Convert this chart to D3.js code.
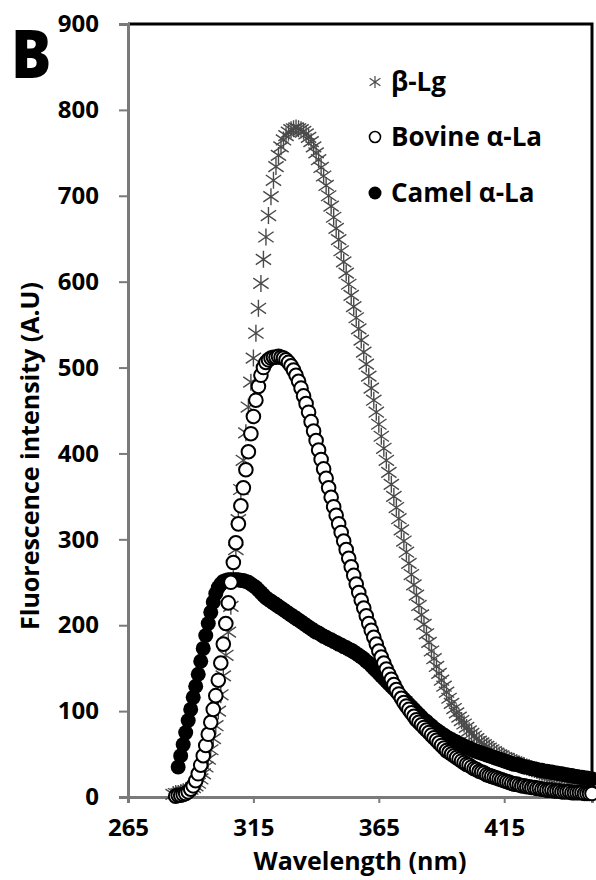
<!DOCTYPE html>
<html>
<head>
<meta charset="utf-8">
<script src="https://cdn.jsdelivr.net/npm/d3@7"></script>
<style>
  html, body { margin: 0; padding: 0; background: #fff; }
  svg { display: block; font-family: "Open Sans", "Noto Sans", sans-serif; }
</style>
</head>
<body>
<svg id="chart" width="596" height="880"></svg>
<script>
// Emission wavelengths (nm), 1 nm steps
const wavelengths = [
  283, 284, 285, 286, 287, 288, 289, 290, 291, 292,
  293, 294, 295, 296, 297, 298, 299, 300, 301, 302,
  303, 304, 305, 306, 307, 308, 309, 310, 311, 312,
  313, 314, 315, 316, 317, 318, 319, 320, 321, 322,
  323, 324, 325, 326, 327, 328, 329, 330, 331, 332,
  333, 334, 335, 336, 337, 338, 339, 340, 341, 342,
  343, 344, 345, 346, 347, 348, 349, 350, 351, 352,
  353, 354, 355, 356, 357, 358, 359, 360, 361, 362,
  363, 364, 365, 366, 367, 368, 369, 370, 371, 372,
  373, 374, 375, 376, 377, 378, 379, 380, 381, 382,
  383, 384, 385, 386, 387, 388, 389, 390, 391, 392,
  393, 394, 395, 396, 397, 398, 399, 400, 401, 402,
  403, 404, 405, 406, 407, 408, 409, 410, 411, 412,
  413, 414, 415, 416, 417, 418, 419, 420, 421, 422,
  423, 424, 425, 426, 427, 428, 429, 430, 431, 432,
  433, 434, 435, 436, 437, 438, 439, 440, 441, 442,
  443, 444, 445, 446, 447, 448, 449, 450
];

// Fluorescence intensity (A.U) per wavelength
const betaLg = [
  3, 4, 4, 5, 6, 7, 8, 9, 11, 13,
  16, 21, 27, 35, 44, 55, 68, 83, 100, 119,
  141, 165, 192, 222, 254, 288, 323, 358, 392, 424,
  454, 483, 511, 540, 569, 598, 626, 652, 677, 699,
  718, 734, 747, 757, 765, 770, 774, 777, 778, 779,
  778, 777, 775, 772, 768, 763, 757, 750, 742, 733,
  723, 712, 700, 688, 675, 662, 649, 636, 623, 610,
  597, 584, 571, 558, 545, 532, 518, 504, 490, 476,
  462, 448, 434, 420, 406, 392, 378, 364, 350, 337,
  324, 311, 298, 285, 272, 259, 247, 235, 223, 212,
  201, 190, 180, 170, 161, 152, 144, 136, 129, 122,
  115, 109, 103, 98, 93, 89, 85, 81, 77, 74,
  71, 68, 65, 63, 61, 59, 57, 55, 53, 51,
  49, 48, 46, 45, 43, 42, 41, 40, 38, 37,
  36, 35, 34, 33, 32, 31, 30, 29, 28, 27,
  26, 25, 24, 24, 23, 22, 21, 21, 20, 19,
  19, 18, 18, 17, 17, 16, 16, 15
];

const bovineLa = [
  null, 1, 2, 2, 3, 4, 6, 9, 13, 19,
  27, 37, 48, 60, 73, 87, 102, 118, 136, 156,
  178, 202, 226, 250, 273, 296, 318, 339, 360, 381,
  402, 423, 443, 462, 478, 491, 500, 506, 509, 511,
  512, 512, 513, 512, 511, 509, 506, 502, 497, 491,
  484, 476, 467, 458, 448, 437, 426, 415, 404, 393,
  382, 371, 360, 349, 338, 328, 318, 308, 298, 288,
  278, 268, 258, 248, 238, 229, 220, 211, 202, 194,
  186, 178, 170, 163, 156, 149, 143, 137, 131, 125,
  120, 115, 110, 106, 102, 98, 94, 90, 87, 84,
  81, 78, 75, 72, 69, 66, 63, 60, 57, 54,
  52, 50, 48, 46, 44, 42, 40, 38, 37, 35,
  33, 32, 30, 29, 28, 26, 25, 24, 23, 22,
  21, 20, 19, 18, 17, 16, 15, 15, 14, 13,
  13, 12, 12, 11, 11, 10, 10, 9, 9, 8,
  8, 8, 7, 7, 7, 6, 6, 6, 6, 5,
  5, 5, 5, 5, 4, 4, 4, 4
];

const camelLa = [
  null, null, 35, 48, 61, 75, 89, 102, 116, 129,
  143, 158, 173, 188, 202, 215, 227, 237, 244, 248,
  251, 252, 253, 253, 253, 253, 253, 252, 252, 251,
  250, 248, 246, 244, 241, 238, 235, 232, 230, 228,
  226, 224, 222, 220, 218, 216, 214, 212, 210, 208,
  206, 204, 202, 200, 198, 196, 194, 192, 191, 189,
  187, 186, 184, 183, 181, 180, 178, 177, 175, 174,
  172, 171, 169, 167, 165, 163, 161, 158, 156, 153,
  150, 147, 144, 141, 138, 135, 132, 129, 126, 123,
  120, 117, 114, 111, 108, 105, 102, 99, 96, 93,
  90, 88, 85, 83, 80, 78, 76, 74, 72, 70,
  68, 67, 65, 64, 62, 61, 59, 58, 57, 55,
  54, 53, 52, 51, 50, 49, 48, 47, 46, 45,
  44, 43, 42, 41, 40, 39, 38, 38, 37, 36,
  35, 35, 34, 33, 33, 32, 31, 31, 30, 30,
  29, 29, 28, 28, 27, 27, 26, 26, 25, 25,
  24, 24, 23, 23, 22, 22, 21, 21
];

const seriesNames = ["β-Lg", "Bovine α-La", "Camel α-La"];
const xTicks = [265, 315, 365, 415];
const yTicks = [0, 100, 200, 300, 400, 500, 600, 700, 800, 900];

const svg = d3.select("#chart");
const x = d3.scaleLinear().domain([265, 450]).range([128, 592]);
const y = d3.scaleLinear().domain([0, 900]).range([797, 24]);

const AXIS_GREY = "#7a7a7a";
const STAR_GREY = "#4a4a4a";

// Plot frame: black top and right edges
svg.append("path")
  .attr("d", `M${x(265)},${y(900)} H${x(450)} V${y(0)}`)
  .attr("fill", "none").attr("stroke", "#000").attr("stroke-width", 3);

// Y axis
const yAxis = svg.append("g")
  .attr("transform", `translate(${x(265)},0)`)
  .call(d3.axisLeft(y).tickValues(yTicks).tickSize(9).tickPadding(20));
// X axis
const xAxis = svg.append("g")
  .attr("transform", `translate(0,${y(0)})`)
  .call(d3.axisBottom(x).tickValues(xTicks).tickSize(6).tickPadding(16));

[yAxis, xAxis].forEach(g => {
  g.select(".domain").attr("stroke", AXIS_GREY).attr("stroke-width", 3);
  g.selectAll(".tick line").attr("stroke", AXIS_GREY).attr("stroke-width", 2);
  g.selectAll(".tick text")
    .attr("fill", "#000")
    .attr("font-family", "'Open Sans', sans-serif")
    .attr("font-weight", 700);
});
yAxis.selectAll(".tick text").attr("font-size", 24);
xAxis.selectAll(".tick text").attr("font-size", 24);

// Marker shapes
const starPath = s => `M0,${-s} V${s} M${-s * 0.9},${-s * 0.62} L${s * 0.9},${s * 0.62} M${-s * 0.9},${s * 0.62} L${s * 0.9},${-s * 0.62}`;

const rows = wavelengths.map((w, i) => ({ w, b: betaLg[i], bo: bovineLa[i], c: camelLa[i] }));

// β-Lg: asterisks
svg.append("g").selectAll("path")
  .data(rows.filter(d => d.b != null))
  .join("path")
  .attr("transform", d => `translate(${x(d.w)},${y(d.b)})`)
  .attr("d", starPath(8.5))
  .attr("fill", "none")
  .attr("stroke", STAR_GREY)
  .attr("stroke-width", 1.4);

// Camel α-La: filled circles
svg.append("g").selectAll("circle")
  .data(rows.filter(d => d.c != null))
  .join("circle")
  .attr("cx", d => x(d.w))
  .attr("cy", d => y(d.c))
  .attr("r", 7.5)
  .attr("fill", "#000");

// Bovine α-La: open circles
svg.append("g").selectAll("circle")
  .data(rows.filter(d => d.bo != null))
  .join("circle")
  .attr("cx", d => x(d.w))
  .attr("cy", d => y(d.bo))
  .attr("r", 6.8)
  .attr("fill", "#fff")
  .attr("stroke", "#000")
  .attr("stroke-width", 2);

// Legend
const legend = svg.append("g").attr("font-family", "'Open Sans', sans-serif")
  .attr("font-weight", 700).attr("font-size", 26);
const legendY = [82, 137, 193];
seriesNames.forEach((name, i) => {
  const g = legend.append("g").attr("transform", `translate(375,${legendY[i]})`);
  if (i === 0) {
    g.append("path").attr("d", starPath(6)).attr("fill", "none")
      .attr("stroke", STAR_GREY).attr("stroke-width", 1.2);
  } else if (i === 1) {
    g.append("circle").attr("r", 5.5).attr("fill", "#fff")
      .attr("stroke", "#000").attr("stroke-width", 1.6);
  } else {
    g.append("circle").attr("r", 6.5).attr("fill", "#000");
  }
  g.append("text").attr("x", 16).attr("y", 9).attr("fill", "#000").text(name);
});

// Axis titles
svg.append("text")
  .attr("x", 360).attr("y", 870)
  .attr("text-anchor", "middle")
  .attr("font-size", 25).attr("font-weight", 700)
  .text("Wavelength (nm)");

svg.append("text")
  .attr("transform", "translate(39,456) rotate(-90)")
  .attr("text-anchor", "middle")
  .attr("font-size", 25).attr("font-weight", 700)
  .text("Fluorescence intensity (A.U)");

// Panel letter
svg.append("text")
  .attr("transform", "translate(11,78) scale(0.88,1)")
  .attr("font-size", 68).attr("font-weight", 800)
  .text("B");
</script>
</body>
</html>
